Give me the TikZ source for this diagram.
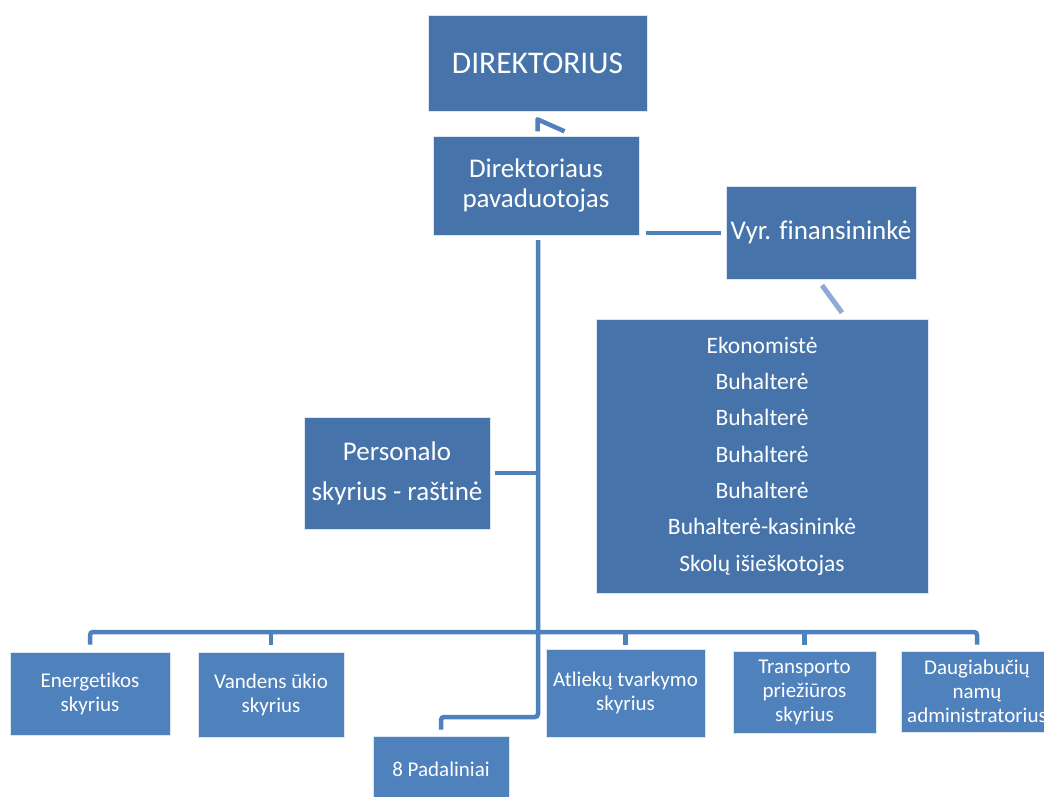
\documentclass[tikz,border=0pt]{standalone}
\usepackage{fontspec}
\setmainfont{Carlito}[Ligatures=NoCommon]
\usetikzlibrary{calc}
\definecolor{darkbox}{RGB}{70,116,170}
\definecolor{lightbox}{RGB}{79,129,189}
\definecolor{conn}{RGB}{79,129,189}
\definecolor{connlight}{RGB}{143,170,214}
\tikzset{
  topbox/.style={fill=darkbox, draw=white!80!lightbox, line width=0.6pt, text=white, align=center, inner sep=0pt},
  lowbox/.style={fill=lightbox, draw=white!80!lightbox, line width=0.6pt, text=white, align=center, inner sep=0pt},
  link/.style={draw=conn, line width=4.5pt},
}
\begin{document}
\begin{tikzpicture}[x=1pt,y=-1pt]
\useasboundingbox (0,0) rectangle (1044,797);
\clip (0,0) rectangle (1044,797);
\fill[white] (0,0) rectangle (1044,797);

% top boxes
\node[topbox, minimum width=219, minimum height=96, font=\fontsize{31.5}{36}\selectfont] (dir) at (537.5,63) {DIREKTORIUS};
\node[topbox, minimum width=206, minimum height=99, font=\fontsize{27}{30}\selectfont] (dp) at (536,185.5) {Direktoriaus\\pavaduotojas};
\node[topbox, minimum width=190, minimum height=93, font=\fontsize{27}{30}\selectfont] (vf) at (821,232.5) {Vyr. finansininkė};
\node[topbox, minimum width=332, minimum height=274, font=\fontsize{23.5}{36.3}\selectfont] (eko) at (762,456) {Ekonomistė\\Buhalterė\\Buhalterė\\Buhalterė\\Buhalterė\\Buhalterė-kasininkė\\Skolų išieškotojas};
\node[topbox, minimum width=186, minimum height=112, font=\fontsize{27}{40}\selectfont] (pers) at (397,473) {Personalo\\skyrius - raštinė};

% bottom boxes
\node[lowbox, minimum width=160, minimum height=83, font=\fontsize{21}{24}\selectfont] (en) at (90,693.5) {Energetikos\\skyrius};
\node[lowbox, minimum width=146, minimum height=85, font=\fontsize{21}{24}\selectfont] (va) at (271,694.5) {Vandens ūkio\\skyrius};
\node[lowbox, minimum width=136, minimum height=66, font=\fontsize{21}{24}\selectfont] (pad) at (441,769) {8 Padaliniai};
\node[lowbox, minimum width=159, minimum height=88, font=\fontsize{21}{24}\selectfont] (at) at (625.5,693) {Atliekų tvarkymo\\skyrius};
\node[lowbox, minimum width=143, minimum height=82, font=\fontsize{21}{24}\selectfont] (tr) at (804.5,692) {Transporto\\priežiūros\\skyrius};
\node[lowbox, minimum width=152, minimum height=81, font=\fontsize{21}{24}\selectfont] (dg) at (977,691.5) {Daugiabučių\\namų\\administratorius};

% connectors
\coordinate (mtop) at (538,240);
\coordinate (mbot) at (538,717);
\coordinate (busy) at (0,632);
\draw[link, line join=round] ($(dir.south)+(0,20)$) -- ($(dir.south)+(0,8)$) -- ($(dir.south)+(27,20)$);
\draw[link] ($(dp.east)+(7,47.5)$) -- ($(vf.west)+(-5,0.5)$);
\draw[draw=connlight, line width=5pt] ($(vf.south)+(1,6)$) -- ($(eko.north)+(80,-6)$);
\draw[link, rounded corners=3] (mtop) -- (mbot) -- (mbot -| pad) -- ($(pad.north)+(0,-6)$);
\draw[link] ($(pers.east)+(5,0)$) -- (pers.east -| mtop);
\draw[link, rounded corners=3] ($(en.north)+(0,-7)$) -- (en.north |- busy) -- (dg.north |- busy) -- ($(dg.north)+(0,-6)$);
\draw[link] (va.north |- busy) -- ($(va.north)+(0,-7)$);
\draw[link] (at.north |- busy) -- ($(at.north)+(0,-4)$);
\draw[link] (tr.north |- busy) -- ($(tr.north)+(0,-6)$);
\end{tikzpicture}
\end{document}
